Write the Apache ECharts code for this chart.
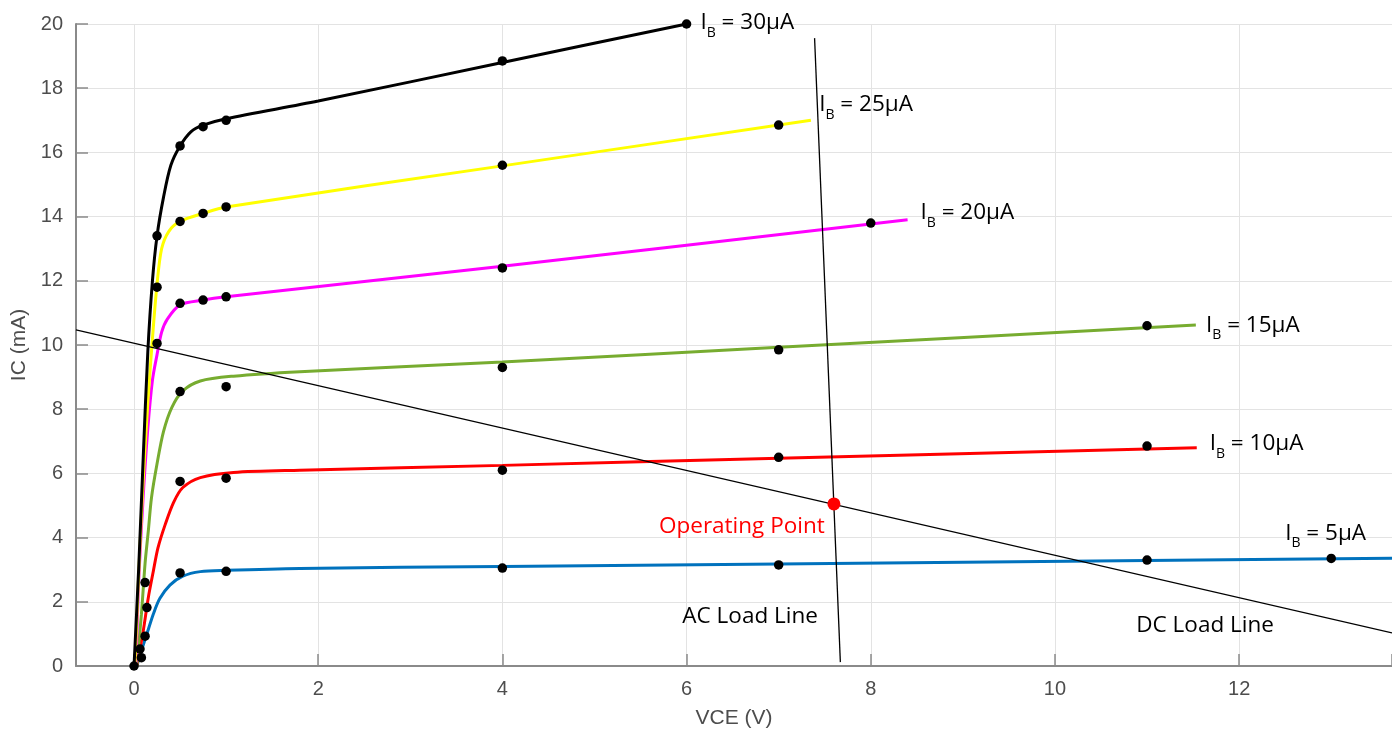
<!DOCTYPE html>
<html>
<head>
<meta charset="utf-8">
<script src="https://cdn.jsdelivr.net/npm/echarts@6/dist/echarts.min.js"></script>
<style>
  html, body { margin: 0; padding: 0; background: #fff; }
  #chart { width: 1392px; height: 735px; }
</style>
</head>
<body>
<div id="chart"></div>
<script>
// transistor output characteristics, IC vs VCE
const xMin = -0.63, xMax = 13.66;

// fitted curves [VCE, IC]
const curve5 = [[0.03,0],[0.08,0.47],[0.14,1.0],[0.21,1.62],[0.28,2.1],[0.39,2.52],[0.53,2.8],[0.72,2.94],[1.0,2.98],[1.8,3.04],[4,3.1],[7,3.18],[11,3.29],[13.66,3.36]];
const curve10 = [[0.03,0],[0.1,1.09],[0.155,2.13],[0.21,2.96],[0.26,3.68],[0.34,4.42],[0.43,5.1],[0.53,5.56],[0.72,5.87],[1.08,6.03],[1.8,6.1],[4,6.25],[7,6.47],[11.54,6.8]];
const curve15 = [[0.03,0],[0.08,1.6],[0.12,3.2],[0.155,4.2],[0.19,5.25],[0.25,6.3],[0.32,7.3],[0.41,8.05],[0.53,8.57],[0.72,8.88],[1.08,9.03],[1.8,9.17],[4,9.47],[7,9.93],[11.53,10.62]];
const curve20 = [[0.02,0],[0.05,2.6],[0.1,5.3],[0.15,7.4],[0.2,8.9],[0.25,9.7],[0.3,10.4],[0.36,10.8],[0.5,11.25],[0.75,11.4],[1,11.5],[4,12.45],[8.4,13.9]];
const curve25 = [[0.01,0],[0.05,2.8],[0.1,5.8],[0.15,8.2],[0.2,10.2],[0.25,11.9],[0.3,13.0],[0.38,13.55],[0.5,13.85],[0.75,14.1],[1,14.3],[4,15.58],[7.35,17.0]];
const curve30 = [[0,0],[0.05,3],[0.1,6.5],[0.15,9.8],[0.2,12],[0.25,13.4],[0.32,14.6],[0.4,15.6],[0.5,16.2],[0.62,16.65],[0.75,16.85],[1,17.05],[2,17.6],[4,18.8],[6,20]];

// measured points
const dots5 = [[0.12,0.93],[0.5,2.9],[1,2.95],[4,3.05],[7,3.15],[11,3.3],[13,3.35]];
const dots10 = [[0.14,1.82],[0.5,5.75],[1,5.85],[4,6.1],[7,6.5],[11,6.85]];
const dots15 = [[0.12,2.6],[0.5,8.55],[1,8.7],[4,9.3],[7,9.85],[11,10.6]];
const dots20 = [[0.25,10.05],[0.5,11.3],[0.75,11.4],[1,11.5],[4,12.4],[8,13.8]];
const dots25 = [[0.25,11.8],[0.5,13.85],[0.75,14.1],[1,14.3],[4,15.6],[7,16.85]];
const dots30 = [[0,0],[0.065,0.53],[0.08,0.26],[0.25,13.4],[0.5,16.2],[0.75,16.8],[1,17.0],[4,18.85],[6,20]];

const dcLoadLine = [[-0.63,10.47],[13.66,1.03]];
const acLoadLine = [[7.39,19.56],[7.67,0.12]];
const operatingPoint = [7.6, 5.05];

const ibValues = ['30', '25', '20', '15', '10', '5'];
const ibLabelAt = [[6.15,20.03],[7.44,17.49],[8.54,14.11],[11.64,10.62],[11.68,6.93],[12.5,4.13]];
const noteTexts = ['Operating Point', 'AC Load Line', 'DC Load Line'];
const noteAt = [[7.5,4.33],[6.69,1.54],[11.63,1.25]];

const curves = [
  { ib: '5', data: curve5, color: '#0072bd' },
  { ib: '10', data: curve10, color: '#ff0000' },
  { ib: '15', data: curve15, color: '#77ac30' },
  { ib: '20', data: curve20, color: '#ff00ff' },
  { ib: '25', data: curve25, color: '#ffff00' },
  { ib: '30', data: curve30, color: '#000000' },
];

const chart = echarts.init(document.getElementById('chart'));
const textFont = '"Open Sans", "Noto Sans", sans-serif';
const axisFont = '"Liberation Sans", Arial, sans-serif';

const axisCommon = {
  axisLine: { onZero: false, lineStyle: { color: '#8a8a8a', width: 2 } },
  axisTick: { inside: true, length: 12, lineStyle: { color: '#8a8a8a', width: 1.5 } },
  splitLine: { show: true, lineStyle: { color: '#e3e3e3', width: 1 } },
  nameTextStyle: { color: '#4d4d4d', fontSize: 21, fontFamily: axisFont },
};

const series = curves.map(c => ({
  name: 'IB = ' + c.ib + 'µA',
  type: 'line',
  data: c.data,
  smooth: 0.3,
  symbol: 'none',
  lineStyle: { color: c.color, width: 3 },
  z: 2,
  silent: true,
}));

series.push({
  name: 'measured',
  type: 'scatter',
  data: [].concat(dots5, dots10, dots15, dots20, dots25, dots30),
  symbolSize: 9.5,
  itemStyle: { color: '#000', opacity: 1 },
  clip: false,
  z: 3,
});

series.push(
  { name: 'DC Load Line', type: 'line', data: dcLoadLine, symbol: 'none', lineStyle: { color: '#000', width: 1.3 }, z: 4 },
  { name: 'AC Load Line', type: 'line', data: acLoadLine, symbol: 'none', lineStyle: { color: '#000', width: 1.3 }, z: 4 },
  { name: 'Operating Point', type: 'scatter', data: [operatingPoint], symbolSize: 13, itemStyle: { color: '#ff0000', opacity: 1 }, z: 5 }
);

const richIB = {
  m: { fontSize: 22.5, lineHeight: 34, verticalAlign: 'middle', color: '#000', fontFamily: textFont },
  s: { fontSize: 14, lineHeight: 14, verticalAlign: 'bottom', color: '#000', fontFamily: textFont },
};

series.push({
  name: 'ib labels',
  type: 'scatter',
  symbolSize: 0,
  clip: false,
  silent: true,
  itemStyle: { opacity: 1 },
  z: 6,
  data: ibValues.map((v, i) => ({
    value: ibLabelAt[i],
    label: {
      show: true,
      position: 'right',
      distance: 0,
      formatter: '{m|I}{s|B}{m| = ' + v + 'µA}',
      rich: richIB,
    },
  })),
});

series.push({
  name: 'notes',
  type: 'scatter',
  symbolSize: 0,
  clip: false,
  silent: true,
  itemStyle: { opacity: 1 },
  z: 6,
  data: noteTexts.map((t, i) => ({
    value: noteAt[i],
    label: {
      show: true,
      position: i === 0 ? 'left' : 'inside',
      distance: 0,
      formatter: t,
      fontSize: 22.5,
      fontFamily: textFont,
      color: i === 0 ? '#ff0000' : '#000',
    },
  })),
});

chart.setOption({
  animation: false,
  grid: { left: 76, right: 0, top: 24, bottom: 69, containLabel: false, outerBoundsMode: 'none' },
  xAxis: Object.assign({}, axisCommon, {
    type: 'value',
    min: xMin,
    max: xMax,
    splitNumber: 7,
    minInterval: 2,
    maxInterval: 2,
    name: 'VCE (V)',
    nameLocation: 'middle',
    nameGap: 42,
    axisLabel: {
      margin: 13, color: '#4d4d4d', fontSize: 20, fontFamily: axisFont,
      formatter: v => (Math.abs(v - Math.round(v)) < 1e-6 ? String(Math.round(v)) : ''),
    },
  }),
  yAxis: Object.assign({}, axisCommon, {
    type: 'value',
    min: 0,
    max: 20,
    interval: 2,
    name: 'IC (mA)',
    nameLocation: 'middle',
    nameGap: 44,
    axisLabel: { margin: 13, color: '#4d4d4d', fontSize: 20, fontFamily: axisFont },
  }),
  series: series,
});
window.addEventListener('resize', () => chart.resize());
</script>
</body>
</html>
